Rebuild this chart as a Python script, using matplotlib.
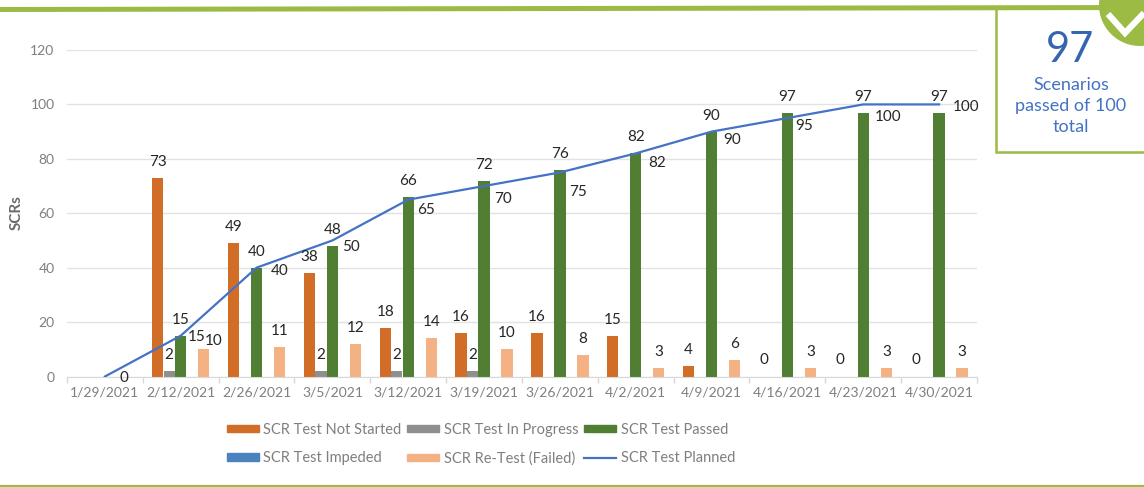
import matplotlib
matplotlib.use("Agg")
import matplotlib.pyplot as plt
from matplotlib.patches import Circle, Patch, Rectangle

plt.rcParams['font.family'] = ['Lato', 'DejaVu Sans']

dates = ['1/29/2021', '2/12/2021', '2/26/2021', '3/5/2021', '3/12/2021', '3/19/2021',
         '3/26/2021', '4/2/2021', '4/9/2021', '4/16/2021', '4/23/2021', '4/30/2021']
not_started = [None, 73, 49, 38, 18, 16, 16, 15, 4, 0, 0, 0]
in_progress = [None, 2, None, 2, 2, 2, None, None, None, None, None, None]
passed = [None, 15, 40, 48, 66, 72, 76, 82, 90, 97, 97, 97]
impeded = [None] * 12
retest = [None, 10, 11, 12, 14, 10, 8, 3, 6, 3, 3, 3]
planned = [0, 15, 40, 50, 65, 70, 75, 82, 90, 95, 100, 100]
yticks = [0, 20, 40, 60, 80, 100, 120]

# label nudges for the planned line, in pixels
planned_dx = [19, 16, 23, 19, 18, 19, 18, 21, 21, 17, 25, 27]
planned_dy = [-2, -1, -3, -7, -10, -13, -20, -10, -8, -8, -13, -3]

W, H = 1144, 487
GREEN = '#9BBB45'
BLUE = '#3565AE'
GREY = '#7f7f7f'
DARK = '#262626'

fig = plt.figure(figsize=(W / 100, H / 100), dpi=100)
ax = fig.add_axes([67 / W, 1 - 376.5 / H, 910 / W, 326.5 / H])

bar_w = 0.152
series = [
    (not_started, -2, '#D26D27', 'SCR Test Not Started'),
    (in_progress, -1, '#8F8F8F', 'SCR Test In Progress'),
    (passed, 0, '#507E32', 'SCR Test Passed'),
    (impeded, 1, '#4A83BE', 'SCR Test Impeded'),
    (retest, 2, '#F4B183', 'SCR Re-Test (Failed)'),
]


def label(x, y, text, dx=0, dy=16):
    ax.annotate(text, (x, y), xytext=(dx * 0.72, dy * 0.72), textcoords='offset points',
                ha='center', va='center', fontsize=11, color=DARK, zorder=5)


handles = {}
for values, slot, col, name in series:
    xs = [i + slot * bar_w for i, v in enumerate(values) if v is not None]
    vs = [v for v in values if v is not None]
    ax.bar(xs, vs, bar_w * 0.98, color=col, zorder=2)
    handles[name] = Patch(color=col, label=name)
    for x, v in zip(xs, vs):
        # the 2/12 re-test label is pushed up and right in the original
        if name == 'SCR Re-Test (Failed)' and x < 2:
            label(x, v, str(v), dx=10, dy=8)
        else:
            label(x, v, str(v))

line, = ax.plot(range(len(dates)), planned, color='#4472C4', lw=1.6, zorder=4, label='SCR Test Planned')
for i, v in enumerate(planned):
    label(i, v, str(v), dx=planned_dx[i], dy=planned_dy[i])

ax.set_xlim(-0.5, 11.5)
ax.set_ylim(0, 120)
ax.set_yticks(yticks)
ax.set_xticks([i - 0.5 for i in range(13)], minor=False)
ax.set_xticklabels([])
ax.set_xticks(range(12), labels=dates, minor=True)
ax.tick_params(axis='x', which='major', length=4, color='#d9d9d9', width=1)
ax.tick_params(axis='x', which='minor', length=0, pad=7, labelsize=10, labelcolor=GREY)
ax.tick_params(axis='y', length=0, pad=9, labelsize=10, labelcolor=GREY)
ax.grid(axis='y', color='#e2e2e2', lw=1, zorder=0)
ax.set_axisbelow(True)
for s in ['top', 'right', 'left']:
    ax.spines[s].set_visible(False)
ax.spines['bottom'].set_color('#d9d9d9')

fig.text(17 / W, 1 - 213 / H, 'SCRs', rotation=90, ha='center', va='center',
         fontsize=11, fontweight='bold', color='#6a6a6a')

# legend fills by column, so order is column-wise
order = ['SCR Test Not Started', 'SCR Test Impeded', 'SCR Test In Progress',
         'SCR Re-Test (Failed)', 'SCR Test Passed']
hs = [handles[n] for n in order] + [line]
ls = order + ['SCR Test Planned']
fig.legend(hs, ls, ncol=3, frameon=False, loc='center', bbox_to_anchor=(481 / W, 1 - 444 / H),
           fontsize=10.5, labelcolor=GREY, handlelength=2.2, handleheight=0.4, handletextpad=0.3,
           columnspacing=0.4, labelspacing=1.0, borderpad=0)

# slide furniture drawn in pixel coordinates
over = fig.add_axes([0, 0, 1, 1], zorder=10)
over.set_xlim(0, W)
over.set_ylim(H, 0)
over.axis('off')
over.plot([0, 1144], [9.5, 7.5], color=GREEN, lw=3.6, solid_capstyle='butt')
over.plot([0, 1144], [486, 486], color=GREEN, lw=1.6, solid_capstyle='butt')
over.add_patch(Rectangle((996, 8), 160, 144, fc='white', ec=GREEN, lw=1.8))
over.add_patch(Circle((1140, 5), 41, fc=GREEN, ec='none'))
over.plot([1108, 1125, 1144], [14, 33, 13], color='white', lw=4.5, solid_capstyle='butt', solid_joinstyle='miter')
over.text(1070, 50, '97', color=BLUE, fontsize=30, ha='center', va='center')
over.text(1071, 85, 'Scenarios', color='#4472C4', fontsize=13, ha='center', va='center')
over.text(1071, 106, 'passed of 100', color='#4472C4', fontsize=13, ha='center', va='center')
over.text(1071, 127, 'total', color='#4472C4', fontsize=13, ha='center', va='center')

fig.savefig('out.png', dpi=100)
